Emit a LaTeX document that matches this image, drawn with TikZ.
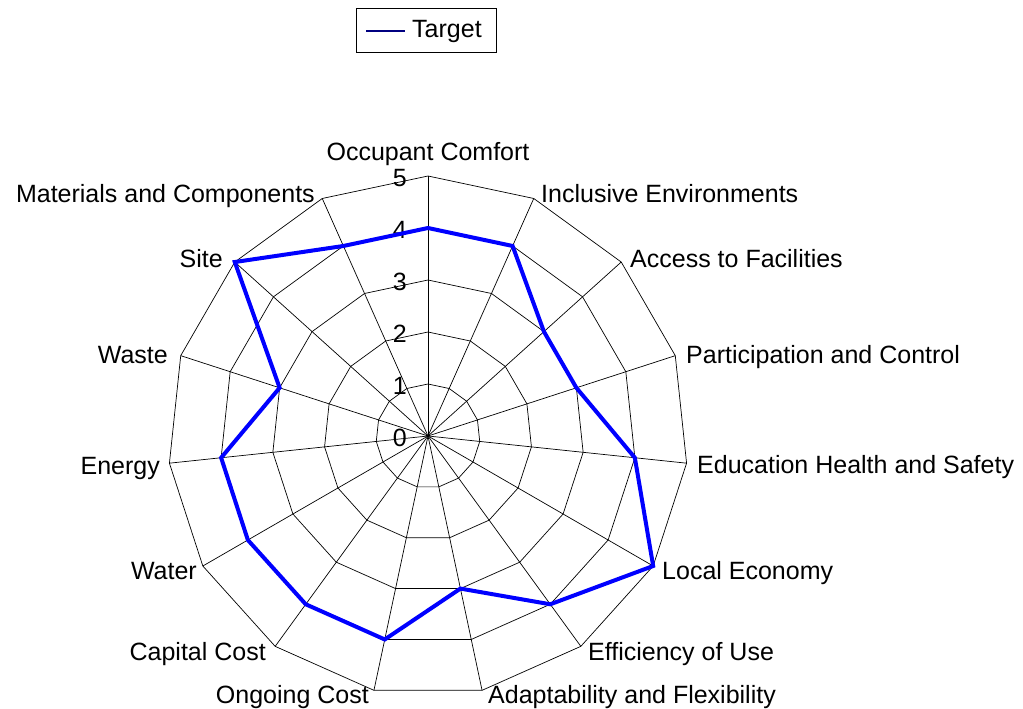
\documentclass[tikz,border=0pt]{standalone}
\usepackage{fontspec}
\setmainfont{Liberation Sans}
\begin{document}
\begin{tikzpicture}[x=1pt,y=-1pt,
  grid/.style={black, line width=0.7pt},
  series/.style={blue, line width=4pt, line join=miter},
  lab/.style={font=\fontsize{25}{30}\selectfont, inner sep=0pt},
  legbox/.style={draw=black, line width=0.8pt, minimum width=140pt, minimum height=44pt, inner sep=0pt}]
\useasboundingbox (0,0) rectangle (1023,709);
\coordinate (c) at (428,436);
% grid vertices
\foreach \i in {0,...,14}{
  \foreach \r in {1,...,5}{
    \coordinate (g\r-\i) at ({428+52*\r*sin(24*\i)},{436-52*\r*cos(24*\i)});
  }
}
% rings
\foreach \r in {1,...,5}{
  \draw[grid] (g\r-0) -- (g\r-1) -- (g\r-2) -- (g\r-3) -- (g\r-4) -- (g\r-5) -- (g\r-6) -- (g\r-7) -- (g\r-8) -- (g\r-9) -- (g\r-10) -- (g\r-11) -- (g\r-12) -- (g\r-13) -- (g\r-14) -- cycle;
}
% spokes
\foreach \i in {0,...,14}{ \draw[grid] (c) -- (g5-\i); }
% tick labels
\foreach \r in {0,...,5}{
  \node[lab, anchor=base east] (t\r) at (407,{446-52*\r}) {\r};
}
% series
\foreach \v [count=\i from 0] in {4,4,3,3,4,5,4,3,4,4,4,4,3,5,4}{
  \coordinate (p\i) at ({428+52*\v*sin(24*\i)},{436-52*\v*cos(24*\i)});
}
\draw[series] (p0) -- (p1) -- (p2) -- (p3) -- (p4) -- (p5) -- (p6) -- (p7) -- (p8) -- (p9) -- (p10) -- (p11) -- (p12) -- (p13) -- (p14) -- cycle;
% axis labels
\node[lab, anchor=base] (l0) at (428,160) {Occupant Comfort};
\node[lab, anchor=base west] (l1) at (541,202) {Inclusive Environments};
\node[lab, anchor=base west] (l2) at (630,267) {Access to Facilities};
\node[lab, anchor=base west] (l3) at (686,363) {Participation and Control};
\node[lab, anchor=base west] (l4) at (697,473) {Education Health and Safety};
\node[lab, anchor=base west] (l5) at (662,579) {Local Economy};
\node[lab, anchor=base west] (l6) at (588,660) {Efficiency of Use};
\node[lab, anchor=base west] (l7) at (488,703) {Adaptability and Flexibility};
\node[lab, anchor=base east] (l8) at (369,703) {Ongoing Cost};
\node[lab, anchor=base east] (l9) at (266,660) {Capital Cost};
\node[lab, anchor=base east] (l10) at (197,579) {Water};
\node[lab, anchor=base east] (l11) at (160,474) {Energy};
\node[lab, anchor=base east] (l12) at (168,363) {Waste};
\node[lab, anchor=base east] (l13) at (223,267) {Site};
\node[lab, anchor=base east] (l14) at (315,202) {Materials and Components};
% legend
\node[legbox] (leg) at (426,30) {};
\coordinate (ls1) at (366,31);
\coordinate (ls2) at (405,31);
\draw[color={rgb,255:red,0;green,0;blue,128}, line width=1.5pt] (ls1) -- (ls2);
\node[lab, anchor=base west] (legt) at (412,38) {Target};
\end{tikzpicture}
\end{document}
